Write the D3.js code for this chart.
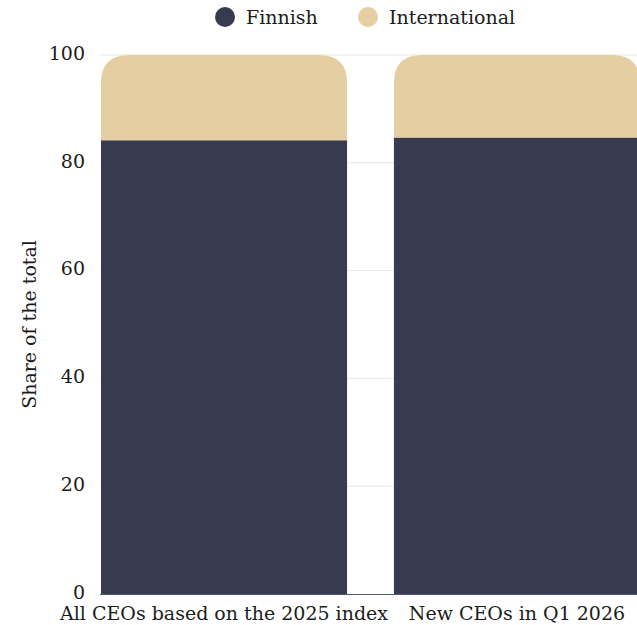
<!DOCTYPE html>
<html>
<head>
<meta charset="utf-8">
<script src="https://cdn.jsdelivr.net/npm/d3@7"></script>
<style>
  body { margin: 0; background: #fff; }
  svg { display: block; }
</style>
</head>
<body>
<div id="container"></div>
<script>
// data
const categories = ["All CEOs based on the 2025 index", "New CEOs in Q1 2026"];
const seriesNames = ["Finnish", "International"];
const finnish = [84.2, 84.7];
const international = [15.8, 15.3];
const yTicks = [0, 20, 40, 60, 80, 100];

// layout
const width = 637;
const height = 625;
const marginLeft = 100;
const marginTop = 55;
const plotBottom = 594;
const plotRight = 641;

const fontFamily = "'DejaVu Serif', serif";
const fontSize = 19;
const textColor = "#1c1c1c";
const colors = ["#383b4f", "#e5cfa2"];
const cornerRadius = 28;

const svg = d3.select("#container").append("svg")
    .attr("width", width)
    .attr("height", height);

const x = d3.scaleBand()
    .domain(categories)
    .range([marginLeft, plotRight])
    .paddingInner(0.16)
    .paddingOuter(0.0034);

const y = d3.scaleLinear()
    .domain([0, 100])
    .range([plotBottom, marginTop]);

// gridlines
svg.append("g")
    .selectAll("line")
    .data(yTicks.filter(d => d > 0))
    .join("line")
    .attr("x1", marginLeft)
    .attr("x2", width)
    .attr("y1", d => y(d))
    .attr("y2", d => y(d))
    .attr("stroke", "#e6e6e6")
    .attr("stroke-width", 1);

// stacked data
const rows = categories.map((c, i) => ({cat: c, Finnish: finnish[i], International: international[i]}));
const stack = d3.stack().keys(seriesNames)(rows);

// rounded-top path for the top segment
function topRounded(x0, y0, w, h, r) {
    return `M${x0},${y0 + h}V${y0 + r}Q${x0},${y0} ${x0 + r},${y0}H${x0 + w - r}Q${x0 + w},${y0} ${x0 + w},${y0 + r}V${y0 + h}Z`;
}

const bars = svg.append("g");
stack.forEach((s, si) => {
    bars.selectAll(`.s${si}`)
	.data(s)
	.join("path")
	.attr("class", `s${si}`)
	.attr("fill", colors[si])
	.attr("d", d => {
	    const x0 = x(d.data.cat);
	    const w = x.bandwidth();
	    const top = y(d[1]);
	    const h = y(d[0]) - y(d[1]);
	    if (si === stack.length - 1) return topRounded(x0, top, w, h, cornerRadius);
	    return `M${x0},${top}h${w}v${h}h${-w}Z`;
	});
});

// baseline
svg.append("line")
    .attr("x1", marginLeft)
    .attr("x2", width)
    .attr("y1", plotBottom + 0.5)
    .attr("y2", plotBottom + 0.5)
    .attr("stroke", "#555b6e")
    .attr("stroke-width", 1);

// y axis labels
svg.append("g")
    .selectAll("text")
    .data(yTicks)
    .join("text")
    .attr("x", 85)
    .attr("y", d => y(d))
    .attr("dy", "0.25em")
    .attr("text-anchor", "end")
    .attr("font-family", fontFamily)
    .attr("font-size", fontSize)
    .attr("fill", textColor)
    .text(d => d);

// y axis title
svg.append("text")
    .attr("transform", `translate(36, ${(marginTop + plotBottom) / 2}) rotate(-90)`)
    .attr("text-anchor", "middle")
    .attr("font-family", fontFamily)
    .attr("font-size", fontSize)
    .attr("fill", textColor)
    .text("Share of the total");

// x labels
svg.append("g")
    .selectAll("text")
    .data(categories)
    .join("text")
    .attr("x", d => x(d) + x.bandwidth() / 2)
    .attr("y", 620)
    .attr("text-anchor", "middle")
    .attr("font-family", fontFamily)
    .attr("font-size", fontSize)
    .attr("fill", textColor)
    .text(d => d);

// legend
const legendX = [225, 368];
const legend = svg.append("g")
    .selectAll("g")
    .data(seriesNames)
    .join("g")
    .attr("transform", (d, i) => `translate(${legendX[i]}, 17)`);

legend.append("circle")
    .attr("r", 10)
    .attr("fill", (d, i) => colors[i]);

legend.append("text")
    .attr("x", 21)
    .attr("dy", "0.35em")
    .attr("font-family", fontFamily)
    .attr("font-size", fontSize)
    .attr("fill", textColor)
    .text(d => d);
</script>
</body>
</html>
